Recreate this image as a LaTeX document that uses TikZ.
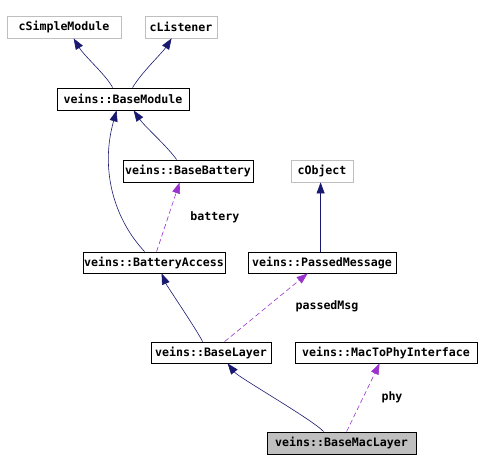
\documentclass[tikz,border=0pt]{standalone}
\usepackage{fontspec}
\setmonofont{DejaVu Sans Mono}
\usetikzlibrary{arrows.meta,calc}
\definecolor{edgeblue}{HTML}{191970}
\definecolor{edgepurple}{HTML}{9A32CD}
\definecolor{boxgray}{HTML}{BFBFBF}
\begin{document}
\begin{tikzpicture}[x=1pt,y=-1pt,
  cls/.style={draw=black,line width=0.8pt,fill=white,minimum height=22pt,inner sep=0pt,
    font=\ttfamily\bfseries\fontsize{11.6}{12}\selectfont},
  ext/.style={cls,draw=boxgray},
  cur/.style={cls,fill=boxgray},
  inh/.style={draw=edgeblue,line width=0.6pt,-{Triangle[length=11pt,width=8pt]}},
  use/.style={draw=edgepurple,line width=0.6pt,dash pattern=on 5pt off 3pt,
    -{Triangle[length=11pt,width=8pt,fill=edgepurple]}},
  lbl/.style={font=\ttfamily\bfseries\fontsize{11.6}{12}\selectfont,inner sep=0pt}]
\useasboundingbox (0,0) rectangle (481,471);
\node[ext,minimum width=114pt] (sm) at (64,27) {cSimpleModule};
\node[ext,minimum width=72pt] (cl) at (181,27) {cListener};
\node[cls,minimum width=132pt] (bm) at (123,99) {veins::BaseModule};
\node[cls,minimum width=130pt] (bb) at (188,171) {veins::BaseBattery};
\node[ext,minimum width=62pt] (co) at (322,171) {cObject};
\node[cls,minimum width=142pt,minimum height=21pt] (ba) at (154,262.5) {veins::BatteryAccess};
\node[cls,minimum width=148pt,minimum height=21pt] (pm) at (322,262.5) {veins::PassedMessage};
\node[cls,minimum width=120pt,minimum height=21pt] (bl) at (211,352.5) {veins::BaseLayer};
\node[cls,minimum width=182pt,minimum height=21pt] (mp) at (386,352.5) {veins::MacToPhyInterface};
\node[cur,minimum width=149pt] (bml) at (341.5,443) {veins::BaseMacLayer};
% inheritance
\draw[inh] ([xshift=56pt]bm.north west) .. controls ($(bm.north west)+(50,-12)$) and ($(sm.south west)+(78,18)$) .. ([xshift=67pt]sm.south west);
\draw[inh] ([xshift=76pt]bm.north west) .. controls ($(bm.north west)+(84,-14)$) and ($(cl.south west)+(18,14)$) .. ([xshift=27pt]cl.south west);
\draw[inh] ([xshift=54pt]bb.north west) .. controls ($(bb.north west)+(44,-14)$) and ($(bm.south west)+(88,16)$) .. ([xshift=77pt]bm.south west);
\draw[inh] ([xshift=62pt]ba.north west) .. controls ($(ba.north west)+(32,-32)$) and ($(bm.south west)+(43,60)$) .. ([xshift=60pt]bm.south west);
\draw[inh] ([xshift=73pt]pm.north west) -- ([xshift=73pt]pm.north west |- co.south);
\draw[inh] ([xshift=52pt]bl.north west) .. controls ($(bl.north west)+(46,-12)$) and ($(ba.south west)+(84,12)$) .. ([xshift=79pt]ba.south west);
\draw[inh] ([xshift=57pt]bml.north west) .. controls ($(bml.north west)+(46,-12)$) and ($(bl.south west)+(88,14)$) .. ([xshift=77pt]bl.south west);
% usage
\draw[use] ([xshift=74pt]ba.north west) -- ([xshift=57pt]bb.south west) node[lbl,pos=0.5,right=22pt] (lb) {battery};
\draw[use] ([xshift=74pt]bl.north west) -- ([xshift=60pt]pm.south west);
\node[lbl] (lp) at (327,306) {passedMsg};
\draw[use] ([xshift=80pt]bml.north west) -- ([xshift=85pt]mp.south west);
\node[lbl] (lph) at (392,397) {phy};
\end{tikzpicture}
\end{document}
